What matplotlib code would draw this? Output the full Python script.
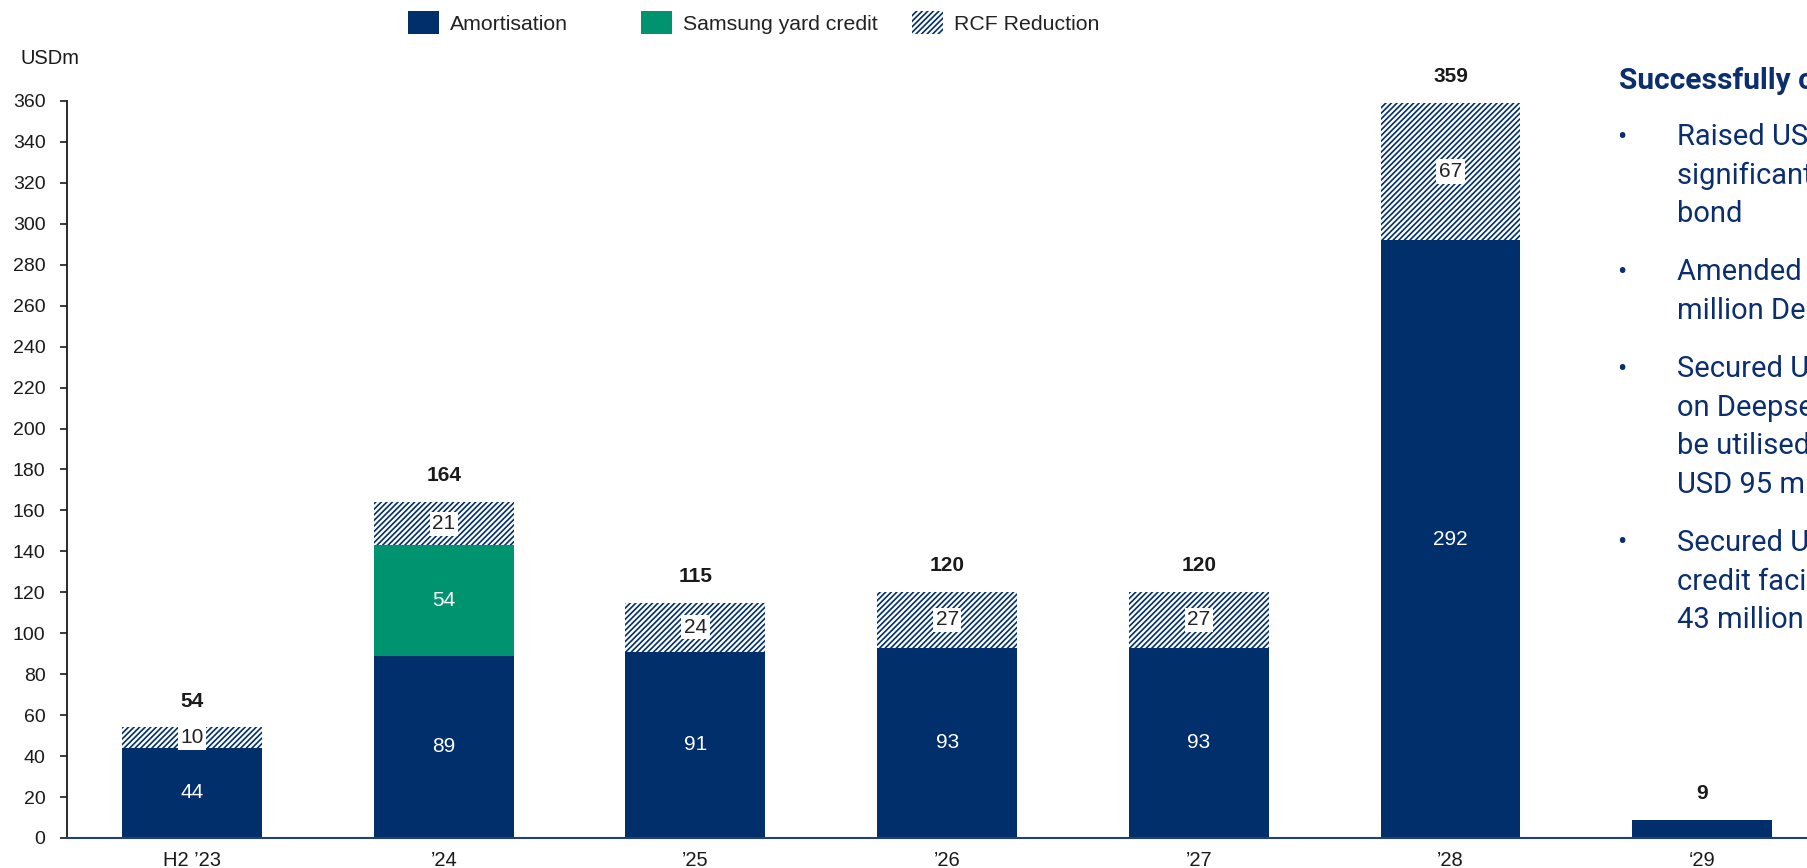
import matplotlib
matplotlib.use("Agg")
import matplotlib.pyplot as plt
from matplotlib.patches import Rectangle
import numpy as np

categories = ["H2 \u201923", "\u201924", "\u201925", "\u201926", "\u201927", "\u201928", "\u201829"]
amortisation = [44, 89, 91, 93, 93, 292, 9]
samsung = [0, 54, 0, 0, 0, 0, 0]
rcf = [10, 21, 24, 27, 27, 67, 0]
totals = [54, 164, 115, 120, 120, 359, 9]

yticks = list(range(0, 361, 20))
legend_labels = ["Amortisation", "Samsung yard credit", "RCF Reduction"]

title_text = "Successfully completed refinancing"
bullets = [
    ["Raised USD 450 million in a", "significantly oversubscribed", "bond"],
    ["Amended and extended USD 100", "million Deepsea Nordkapp facility"],
    ["Secured USD 150 million facility", "on Deepsea Yantai and Deepsea Bollsta to", "be utilised for refinancing the existing", "USD 95 million facility"],
    ["Secured USD 60 million revolving", "credit facility, reducing by USD", "43 million"],
]

NAVY = "#002F6C"
GREEN = "#009370"
TXT_NAVY = "#0B2E6E"

plt.rcParams['font.family'] = ['Liberation Sans', 'DejaVu Sans']
plt.rcParams['hatch.color'] = NAVY
plt.rcParams['hatch.linewidth'] = 1.2

W, H = 1808, 868
fig = plt.figure(figsize=(W / 100, H / 100), dpi=100)
ax_left = 67 / W
ax_bottom = (H - 838) / H
ax_top = (H - 101) / H
ax = fig.add_axes([ax_left, ax_bottom, 1 - ax_left, ax_top - ax_bottom])

x = np.arange(len(categories))
bw = 0.556
a = np.array(amortisation)
s = np.array(samsung)
r = np.array(rcf)

ax.bar(x, a, bw, color=NAVY, linewidth=0)
ax.bar(x, s, bw, bottom=a, color=GREEN, linewidth=0)
ax.bar(x, r, bw, bottom=a + s, facecolor="white", edgecolor=NAVY, linewidth=0, hatch="//////")

for i in range(len(x)):
    if a[i] > 20:
        ax.text(x[i], a[i] / 2, str(a[i]), ha="center", va="center", color="white", fontsize=15)
    if s[i] > 0:
        ax.text(x[i], a[i] + s[i] / 2, str(s[i]), ha="center", va="center", color="white", fontsize=15)
    if r[i] > 0:
        ax.text(x[i], a[i] + s[i] + r[i] / 2, str(r[i]), ha="center", va="center", color="#222222", fontsize=15,
                bbox=dict(facecolor="white", edgecolor="none", pad=2.0))
    ax.annotate(str(totals[i]), (x[i], totals[i]), xytext=(0, 19), textcoords="offset points",
                ha="center", va="center", fontsize=15, fontweight="bold", color="#1a1a1a", annotation_clip=False)

ax.set_ylim(0, 360)
ax.set_xlim(-0.497, (W - 192) / 251.7)
ax.set_yticks(yticks)
ax.set_xticks(x)
ax.set_xticklabels(categories)
ax.tick_params(axis="y", length=5, width=1.2, labelsize=14, pad=10.5, colors="#1a1a1a")
ax.tick_params(axis="x", length=0, labelsize=14.5, pad=9, colors="#1a1a1a")
for sp in ["top", "right"]:
    ax.spines[sp].set_visible(False)
ax.spines["left"].set_linewidth(1.3)
ax.spines["left"].set_color("#1a1a1a")
ax.spines["bottom"].set_linewidth(1.5)
ax.spines["bottom"].set_color("#23406F")

fig.text(21 / W, 1 - 59 / H, "USDm", fontsize=14.5, ha="left", va="center", color="#1a1a1a")

# legend placed manually (uneven spacing as in the reference)
leg_patch_x = [408, 641, 912]
leg_styles = [dict(facecolor=NAVY, edgecolor="none"),
              dict(facecolor=GREEN, edgecolor="none"),
              dict(facecolor="white", edgecolor=NAVY, linewidth=0, hatch="//////")]
for px, lab, st in zip(leg_patch_x, legend_labels, leg_styles):
    fig.patches.append(Rectangle((px / W, 1 - 34 / H), 31 / W, 23 / H,
                                 transform=fig.transFigure, figure=fig, **st))
    fig.text((px + 42) / W, 1 - 24 / H, lab, fontsize=15.3, ha="left", va="center", color="#222222")

# right-hand text panel
fig.text(1619 / W, 1 - 81 / H, title_text, fontsize=21.5, fontweight="bold", color=TXT_NAVY,
         family=["Roboto", "DejaVu Sans"], ha="left", va="center")
y = 137
for grp in bullets:
    fig.text(1622 / W, 1 - y / H, "\u2022", fontsize=20, color=TXT_NAVY,
             family=["Roboto", "DejaVu Sans"], ha="center", va="center")
    for line in grp:
        fig.text(1677 / W, 1 - y / H, line, fontsize=21, color=TXT_NAVY,
                 family=["Roboto", "DejaVu Sans"], ha="left", va="center")
        y += 38.6
    y += 19.5

fig.savefig("out.png", dpi=100)
